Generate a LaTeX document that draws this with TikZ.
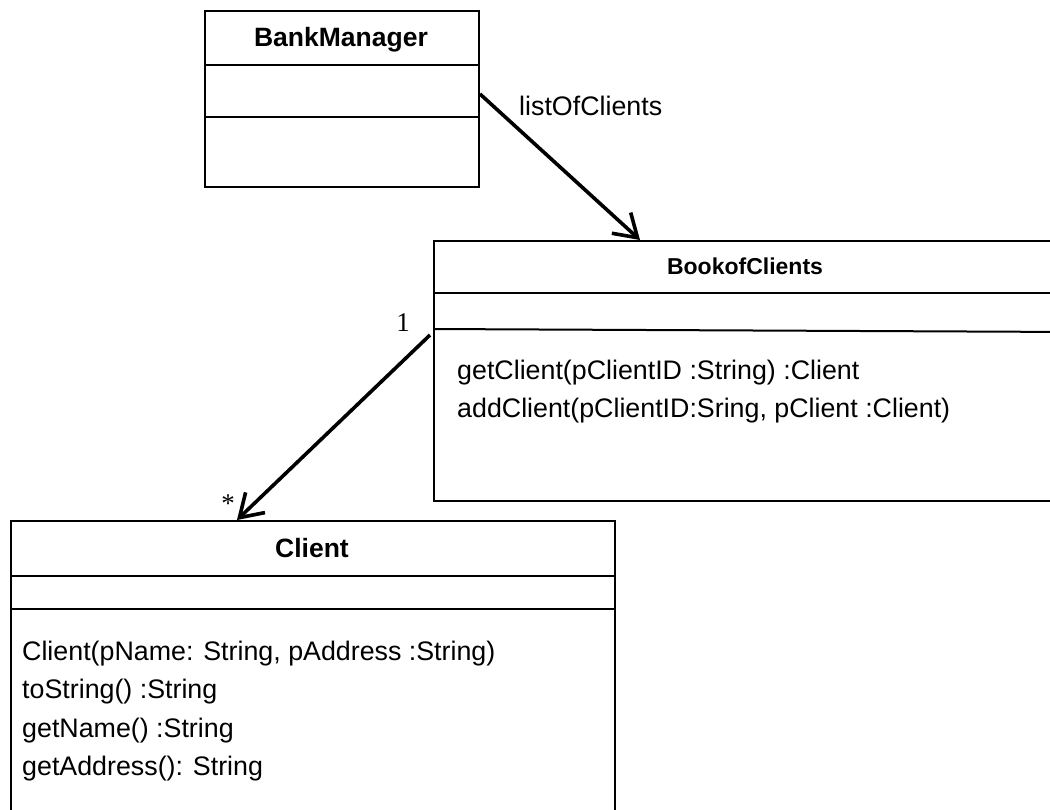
\documentclass[tikz,border=0pt]{standalone}
\usepackage{fontspec}
\setmainfont{Liberation Sans}
\newfontfamily\seriffont{Liberation Serif}
\usetikzlibrary{arrows.meta}
\begin{document}
\begin{tikzpicture}[x=1pt,y=-1pt,
  classbox/.style={draw, line width=2pt, rectangle, inner sep=0pt, anchor=north west},
  divider/.style={line width=2pt},
  classtitle/.style={font=\fontsize{26.5}{26.5}\selectfont\bfseries, anchor=base, inner sep=0pt},
  member/.style={font=\fontsize{26.8}{26.8}\selectfont, anchor=base west, inner sep=0pt},
  assoc/.style={line width=3.6pt, -{Straight Barb[length=22pt,width=28pt,line width=3.6pt]}},
  mult/.style={font=\seriffont\fontsize{27}{27}\selectfont, inner sep=0pt, anchor=base}]
\useasboundingbox (0,0) rectangle (1050,809);
\fill[white] (0,0) rectangle (1050,809);
\clip (0,0) rectangle (1050,809);

% BankManager
\node[classbox, minimum width=274pt, minimum height=176pt] (bm) at (204,10) {};
\draw[divider] (bm.west |- 0,65) -- (bm.east |- 0,65);
\draw[divider] (bm.west |- 0,117) -- (bm.east |- 0,117);
\node[classtitle] (bmt) at (341,46) {BankManager};

% BookofClients
\node[classbox, minimum width=640pt, minimum height=260pt] (bc) at (433,240) {};
\draw[divider] (bc.west |- 0,293) -- (bc.east |- 0,293);
\draw[divider] (bc.west |- 0,329) -- (bc.east |- 0,332);
\node[classtitle, font=\fontsize{23}{23}\selectfont\bfseries] (bct) at (745,274) {BookofClients};
\node[member] (bcm1) at (457,379) {getClient(pClientID :String) :Client};
\node[member] (bcm2) at (457,417) {addClient(pClientID:Sring, pClient :Client)};

% Client
\node[classbox, minimum width=604pt, minimum height=320pt] (cl) at (10,520) {};
\draw[divider] (cl.west |- 0,576) -- (cl.east |- 0,576);
\draw[divider] (cl.west |- 0,609) -- (cl.east |- 0,609);
\node[classtitle] (clt) at (312,557) {Client};
\node[member] (clm1) at (22,660) {Client(pName: String, pAddress :String)};
\node[member] (clm2) at (22,698) {toString() :String};
\node[member] (clm3) at (22,737) {getName() :String};
\node[member] (clm4) at (22,775) {getAddress(): String};

% associations
\coordinate (a1s) at (bm.east |- 0,94);
\coordinate (a1e) at (640,240);
\draw[assoc] (a1s) -- (a1e);
\node[member] (a1l) at (519,115) {listOfClients};

\coordinate (a2s) at (430,335);
\coordinate (a2e) at (237,520);
\draw[assoc] (a2s) -- (a2e);
\node[mult] (m1) at (403,331) {1};
\node[mult] (m2) at (228,512) {*};
\end{tikzpicture}
\end{document}
